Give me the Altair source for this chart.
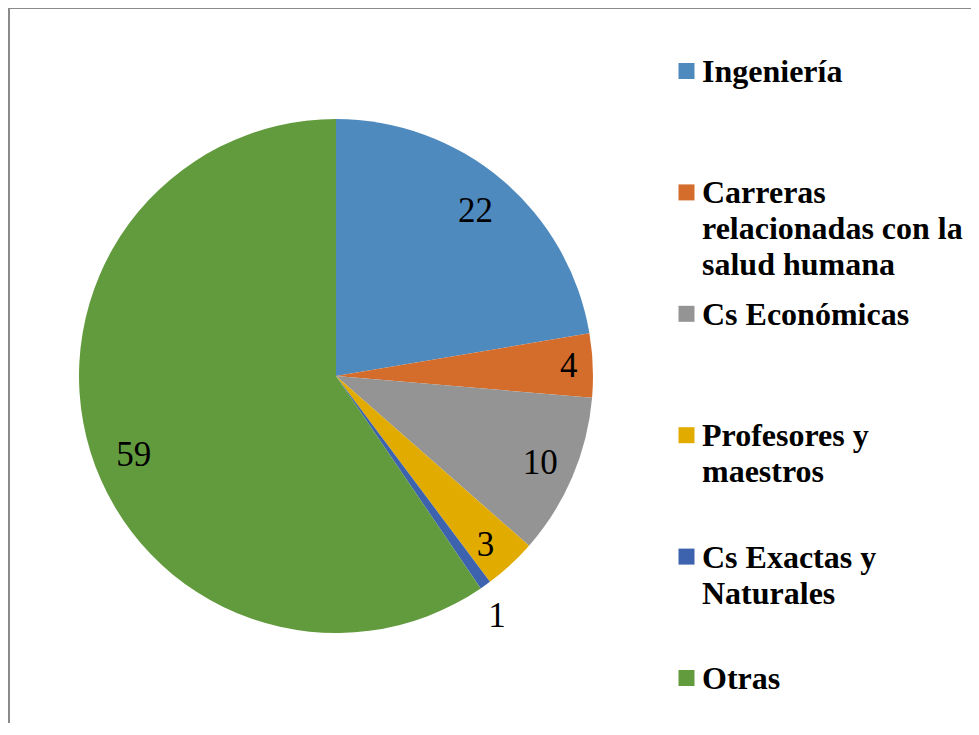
import altair as alt
import pandas as pd

title_text = "Bolivariana de Venezuela de 15 a 64 años"
categories = ["Ingeniería", "Carreras relacionadas con la salud humana", "Cs Económicas",
              "Profesores y maestros", "Cs Exactas y Naturales", "Otras"]
legend_lines = ["Ingeniería", "Carreras|relacionadas con la|salud humana", "Cs Económicas",
                "Profesores y|maestros", "Cs Exactas y|Naturales", "Otras"]
shares = [22.3, 4.0, 10.1, 3.3, 0.7, 59.4]
labels = ["22", "4", "10", "3", "1", "59"]
colors = ["#4F8ABE", "#D46D2C", "#949494", "#E2AB00", "#3D63AE", "#629B3E"]

df = pd.DataFrame({"cat": categories, "legend": legend_lines, "share": shares,
                   "label": labels, "idx": list(range(len(categories)))})

W, H = 963, 715
CX, CY, R = 328, 368, 257
SERIF = "Liberation Serif, Times New Roman, serif"

# label placement (Excel "best fit" look): radius and nudges per label
label_style = {"22": (216, 0, 0), "4": (233, 0, 0), "10": (222, 0, 0),
               "3": (226, -4, 3), "1": (289, -7, 5), "59": (217, 5, 15)}

base = alt.Chart(df)
color = alt.Color("cat:N", scale=alt.Scale(domain=categories, range=colors), legend=None)
theta = alt.Theta("share:Q", stack=True)
order = alt.Order("idx:Q", sort="ascending")
cx, cy = alt.value(CX), alt.value(CY)

pie = base.mark_arc(outerRadius=R).encode(theta=theta, color=color, order=order, x=cx, y=cy)

label_layers = []
for lab in labels:
    rad, ddx, ddy = label_style[lab]
    label_layers.append(
        base.mark_text(radius=rad, dx=ddx, dy=ddy, font=SERIF, fontSize=35, color="black").encode(
            theta=theta, order=order, x=cx, y=cy,
            text=alt.condition(f"datum.label == '{lab}'", alt.Text("label:N"), alt.value("")))
    )

leg_y = alt.Y("cat:N", scale=alt.Scale(domain=categories, range=[63, 670], padding=0), axis=None)

leg_sq = base.mark_square(size=256, filled=True, opacity=1).encode(
    x=alt.value(678.5), y=leg_y, color=color)

leg_txt = base.transform_calculate(lines="split(datum.legend, '|')").mark_text(
    align="left", baseline="alphabetic", font=SERIF, fontWeight="bold", fontSize=32,
    lineHeight=36, dy=11, color="black").encode(
    x=alt.value(694), y=leg_y, text="lines:N")

frame_top = base.mark_rule(color="#8a8a8a", strokeWidth=1).encode(
    x=alt.value(0), x2=alt.value(W), y=alt.value(0.5))
frame_left = base.mark_rule(color="#8a8a8a", strokeWidth=1.2).encode(
    x=alt.value(1), y=alt.value(0), y2=alt.value(H))

title = alt.Chart(pd.DataFrame({"t": [title_text]})).mark_text(
    font=SERIF, fontWeight="bold", fontSize=31, baseline="alphabetic", color="black").encode(
    x=alt.value(462), y=alt.value(-4), text="t:N")

chart = alt.layer(pie, *label_layers, leg_sq, leg_txt, frame_top, frame_left, title).properties(
    width=W, height=H, autosize=alt.AutoSizeParams(type="none"), padding=0
).configure_view(stroke=None)

chart.save("out.html", embed_options={"renderer": "svg", "actions": False})
